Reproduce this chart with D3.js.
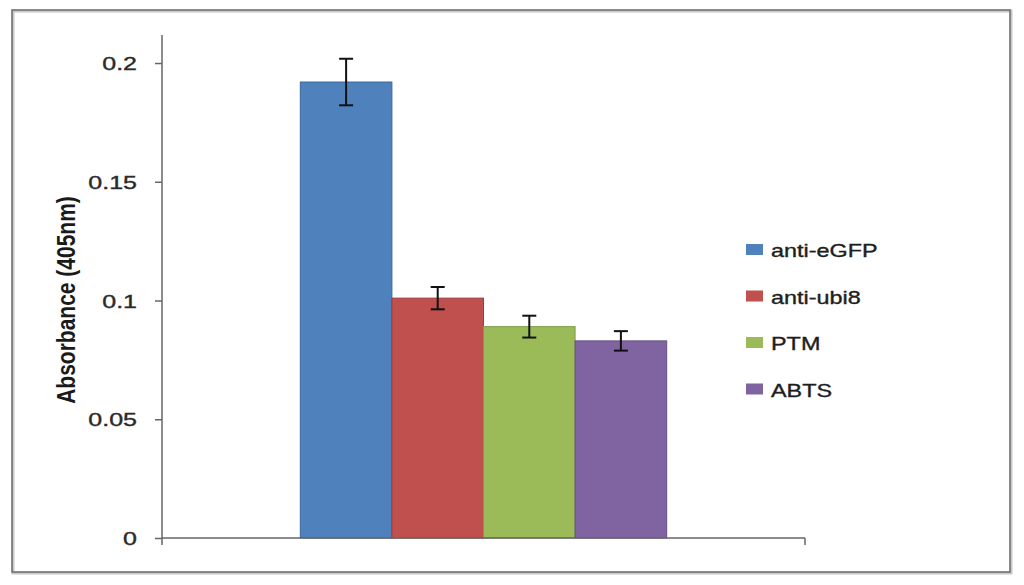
<!DOCTYPE html>
<html>
<head>
<meta charset="utf-8">
<script src="https://cdn.jsdelivr.net/npm/d3@7"></script>
<style>
  html, body { margin: 0; padding: 0; background: #fff; }
  svg { display: block; }
</style>
</head>
<body>
<svg id="chart" width="1024" height="585"></svg>
<script>
const categories = ["anti-eGFP", "anti-ubi8", "PTM", "ABTS"];
const values = [0.192, 0.101, 0.089, 0.083];
const errors = [0.0098, 0.0047, 0.0046, 0.0041];
const colors = ["#4F81BD", "#C0504D", "#9BBB59", "#8064A2"];
const strokes = ["#3A679C", "#9E3B38", "#7F9C45", "#664E86"];
const yTicks = [0, 0.05, 0.1, 0.15, 0.2];
const yTickLabels = ["0", "0.05", "0.1", "0.15", "0.2"];
const yAxisTitle = "Absorbance (405nm)";

const svg = d3.select("#chart");
const FONT = "'Liberation Sans', Arial, sans-serif";

// outer frame
svg.append("rect").attr("x", 13).attr("y", 11).attr("width", 998).attr("height", 562)
  .attr("fill", "#fff").attr("stroke", "#C8C8C8").attr("stroke-width", 3);
svg.append("rect").attr("x", 12).attr("y", 10).attr("width", 998).attr("height", 562)
  .attr("fill", "none").attr("stroke", "#6E6E6E").attr("stroke-width", 1.5);

const plotLeft = 162, plotRight = 805, plotBottom = 538, plotTop = 35;

const y = d3.scaleLinear().domain([0, 0.2118]).range([plotBottom, plotTop]);
const x = d3.scaleBand().domain(categories).range([plotLeft, plotRight])
  .paddingInner(0).paddingOuter(1.51);

// bars
svg.append("g").selectAll("rect").data(categories).join("rect")
  .attr("x", d => x(d))
  .attr("y", (d, i) => y(values[i]))
  .attr("width", x.bandwidth())
  .attr("height", (d, i) => y(0) - y(values[i]))
  .attr("fill", (d, i) => colors[i])
  .attr("stroke", (d, i) => strokes[i])
  .attr("stroke-width", 1);

// error bars
const eb = svg.append("g").attr("stroke", "#111").attr("stroke-width", 2);
categories.forEach((c, i) => {
  const cx = x(c) + x.bandwidth() / 2;
  const y1 = y(values[i] + errors[i]), y2 = y(values[i] - errors[i]);
  eb.append("line").attr("x1", cx).attr("x2", cx).attr("y1", y1).attr("y2", y2);
  eb.append("line").attr("x1", cx - 7).attr("x2", cx + 7).attr("y1", y1).attr("y2", y1);
  eb.append("line").attr("x1", cx - 7).attr("x2", cx + 7).attr("y1", y2).attr("y2", y2);
});

// y axis
const yAxis = d3.axisLeft(y).tickValues(yTicks)
  .tickFormat((d, i) => yTickLabels[i]).tickSize(7).tickPadding(10.5);
const yg = svg.append("g").attr("transform", `translate(${plotLeft},0)`).call(yAxis);
yg.select(".domain").remove();
yg.selectAll(".tick line").attr("stroke", "#666").attr("stroke-width", 1.5);
yg.selectAll(".tick text")
  .attr("font-family", FONT)
  .attr("font-size", 17.5)
  .attr("fill", "#2a2a2a")
  .attr("stroke", "#2a2a2a")
  .attr("stroke-width", 0.35)
  .attr("dy", "0.38em")
  .attr("transform", "scale(1.43,1)");

svg.append("line").attr("x1", plotLeft).attr("x2", plotLeft)
  .attr("y1", y.range()[1]).attr("y2", y(0) + 7)
  .attr("stroke", "#666").attr("stroke-width", 1.5);

// x axis
svg.append("line").attr("x1", plotLeft).attr("x2", plotRight)
  .attr("y1", y(0)).attr("y2", y(0)).attr("stroke", "#666").attr("stroke-width", 1.5);
svg.append("line").attr("x1", plotRight).attr("x2", plotRight)
  .attr("y1", y(0)).attr("y2", y(0) + 7).attr("stroke", "#666").attr("stroke-width", 1.5);

// y axis title
svg.append("text")
  .attr("transform", `translate(75,300) scale(1.2,1) rotate(-90)`)
  .attr("text-anchor", "middle")
  .attr("font-family", FONT)
  .attr("font-weight", "bold")
  .attr("font-size", 21)
  .attr("fill", "#1a1a1a")
  .text(yAxisTitle);

// legend
const lg = svg.append("g");
categories.forEach((c, i) => {
  const cy = 250 + i * 46.5;
  lg.append("rect").attr("x", 746).attr("y", cy - 6).attr("width", 17).attr("height", 11)
    .attr("fill", colors[i]);
  lg.append("text")
    .attr("transform", `translate(771,${cy + 7}) scale(1.3,1)`)
    .attr("font-family", FONT)
    .attr("font-size", 18)
    .attr("fill", "#1e1e1e")
    .attr("stroke", "#1e1e1e")
    .attr("stroke-width", 0.35)
    .text(c);
});
</script>
</body>
</html>
